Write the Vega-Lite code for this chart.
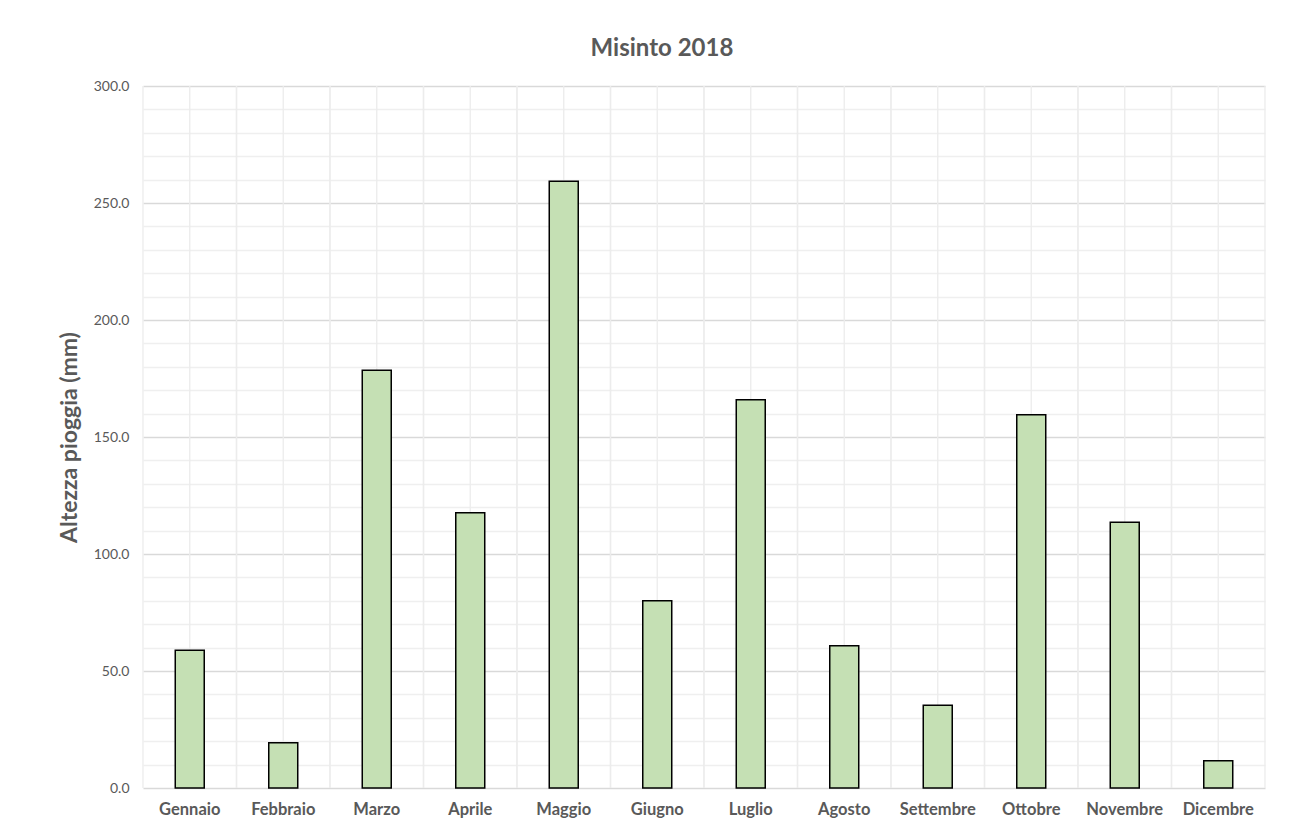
{
  "$schema": "https://vega.github.io/schema/vega-lite/v6.json",
  "autosize": "none",
  "width": 1122,
  "height": 702,
  "padding": {"left": 143, "top": 86, "right": 36, "bottom": 44},
  "background": "white",
  "config": {
    "font": "Lato",
    "view": {"stroke": null}
  },
  "title": {
    "text": "Misinto 2018",
    "fontSize": 24,
    "fontWeight": "bold",
    "color": "#595959",
    "anchor": "middle",
    "frame": "bounds",
    "offset": 18
  },
  "data": {
    "values": [
      {"mese": "Gennaio", "pioggia": 58.9},
      {"mese": "Febbraio", "pioggia": 19.3},
      {"mese": "Marzo", "pioggia": 178.5},
      {"mese": "Aprile", "pioggia": 117.6},
      {"mese": "Maggio", "pioggia": 259.3},
      {"mese": "Giugno", "pioggia": 80.0},
      {"mese": "Luglio", "pioggia": 165.9},
      {"mese": "Agosto", "pioggia": 60.8},
      {"mese": "Settembre", "pioggia": 35.4},
      {"mese": "Ottobre", "pioggia": 159.5},
      {"mese": "Novembre", "pioggia": 113.6},
      {"mese": "Dicembre", "pioggia": 11.6}
    ]
  },
  "layer": [
    {
      "mark": {"type": "rule", "color": "#ececec", "strokeWidth": 1.3},
      "encoding": {
        "x": {"field": "mese", "type": "nominal", "sort": null}
      }
    },
    {
      "mark": {"type": "rule", "color": "#ececec", "strokeWidth": 1.3},
      "encoding": {
        "x": {"field": "mese", "type": "nominal", "sort": null, "bandPosition": 0}
      }
    },
    {
      "mark": {"type": "rule", "color": "#ececec", "strokeWidth": 1.3},
      "encoding": {
        "x": {"field": "mese", "type": "nominal", "sort": null, "bandPosition": 1}
      }
    },
    {
      "mark": {"type": "bar", "fill": "#c5e0b4", "stroke": "#000000", "strokeWidth": 1.5, "width": {"band": 0.31}},
      "encoding": {
        "x": {
          "field": "mese",
          "type": "nominal",
          "sort": null,
          "scale": {"paddingInner": 0, "paddingOuter": 0},
          "axis": {
            "title": null,
            "labelAngle": 0,
            "labelAlign": "center",
            "labelBaseline": "top",
            "bandPosition": 0.5,
            "labelFontSize": 16.5,
            "labelFontWeight": "bold",
            "labelColor": "#595959",
            "labelPadding": 13,
            "domain": false,
            "ticks": false,
            "grid": false
          }
        },
        "y": {
          "field": "pioggia",
          "type": "quantitative",
          "scale": {"domain": [0, 300], "nice": false},
          "axis": {
            "title": "Altezza pioggia (mm)",
            "titleFontSize": 23,
            "titleFontWeight": "bold",
            "titleColor": "#595959",
            "titlePadding": 12,
            "values": [0,10,20,30,40,50,60,70,80,90,100,110,120,130,140,150,160,170,180,190,200,210,220,230,240,250,260,270,280,290,300],
            "labelExpr": "datum.value % 50 === 0 ? format(datum.value, '.1f') : ''",
            "labelFontSize": 14,
            "labelColor": "#595959",
            "labelPadding": 14,
            "domain": false,
            "ticks": false,
            "grid": true,
            "gridColor": {"condition": {"test": "datum.value % 50 === 0", "value": "#d9d9d9"}, "value": "#efefef"},
            "gridWidth": 1.3
          }
        }
      }
    }
  ]
}
